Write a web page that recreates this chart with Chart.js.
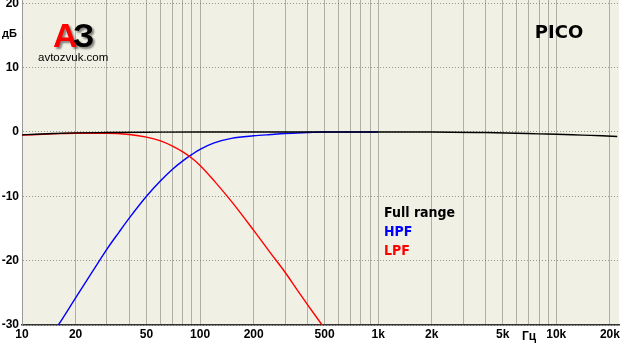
<!DOCTYPE html>
<html>
<head>
<meta charset="utf-8">
<script src="https://cdn.jsdelivr.net/npm/chart.js@4/dist/chart.umd.min.js"></script>
<style>
  html, body { margin: 0; padding: 0; background: #fff; }
  #wrap { width: 620px; height: 343px; }
</style>
</head>
<body>
<div id="wrap"><canvas id="myChart"></canvas></div>
<script>
// values (Hz, dB)
let fullFreq = [10, 12, 15, 20, 30, 50, 100, 200, 500, 1000, 2000, 4000, 6000, 8000, 10000, 14000, 18000, 22000]
let fullDb   = [-0.45, -0.35, -0.25, -0.15, -0.1, -0.05, 0, 0, 0, 0, 0, -0.1, -0.2, -0.3, -0.35, -0.5, -0.6, -0.7]

let hpfFreq = [16, 18, 20, 25, 30, 35, 40, 50, 60, 70, 80, 90, 100, 120, 150, 200, 250, 300, 400, 500, 1000]
let hpfDb   = [-30, -27.8, -25.8, -21.6, -18.2, -15.6, -13.4, -10.0, -7.6, -5.8, -4.5, -3.5, -2.7, -1.7, -1.0, -0.6, -0.4, -0.25, -0.1, 0, 0]

let lpfFreq = [10, 15, 20, 30, 40, 50, 60, 70, 80, 90, 100, 120, 150, 200, 250, 300, 350, 400, 490]
let lpfDb   = [-0.5, -0.3, -0.2, -0.2, -0.4, -0.8, -1.4, -2.2, -3.1, -4.1, -5.2, -7.6, -10.8, -15.3, -18.9, -21.8, -24.5, -26.8, -30.2]

let freqTicks = [10,20,30,40,50,60,70,80,90,100,200,300,400,500,600,700,800,900,
                 1000,2000,3000,4000,5000,6000,7000,8000,9000,10000,20000]
let labelFreqs = [10, 20, 50, 100, 200, 500, 1000, 2000, 5000, 10000, 20000]
let labelTexts = ['10', '20', '50', '100', '200', '500', '1k', '2k', '5k', '10k', '20k']
let dbTicks = [-30, -20, -10, 0, 10, 20]

function points(fr, db) {
  return fr.map((f, i) => ({x: f, y: db[i]}))
}

let overlay = {
  id: 'overlay',
  beforeDraw(chart) {
    let {ctx, chartArea: a} = chart
    ctx.save()
    ctx.fillStyle = '#F1F0E4'
    ctx.fillRect(a.left, a.top, a.right - a.left, a.bottom - a.top)
    ctx.restore()
  },
  afterDraw(chart) {
    let ctx = chart.ctx
    ctx.save()
    // logo
    ctx.textBaseline = 'alphabetic'
    ctx.font = 'bold 34px "Liberation Sans"'
    ctx.shadowColor = 'rgba(0,0,0,0.45)'
    ctx.shadowOffsetX = 2
    ctx.shadowOffsetY = 2
    ctx.shadowBlur = 2
    ctx.fillStyle = '#ff0000'
    ctx.fillText('А', 53, 47)
    ctx.fillStyle = '#000'
    ctx.fillText('З', 73, 47)
    ctx.shadowColor = 'transparent'
    ctx.font = '11.5px "Liberation Sans"'
    ctx.fillText('avtozvuk.com', 38, 61)

    ctx.font = 'bold 11px "Liberation Sans"'
    ctx.fillText('дБ', 2, 37)

    ctx.font = 'bold 18px "DejaVu Sans"'
    ctx.textAlign = 'center'
    ctx.fillText('PICO', 559, 38)

    ctx.textAlign = 'left'
    ctx.font = 'bold 14px "DejaVu Sans Condensed"'
    ctx.fillStyle = '#000'
    ctx.fillText('Full range', 384, 217)
    ctx.fillStyle = '#0000ff'
    ctx.fillText('HPF', 384, 236)
    ctx.fillStyle = '#ff0000'
    ctx.fillText('LPF', 384, 255)

    ctx.fillStyle = '#000'
    ctx.font = 'bold 12px "Liberation Sans"'
    ctx.fillText('Гц', 522, 340)
    ctx.restore()
  }
}

let chart = new Chart(document.getElementById('myChart').getContext('2d'), {
  type: 'line',
  data: {
    datasets: [
      {label: 'Full range', data: points(fullFreq, fullDb), borderColor: '#000', order: 0},
      {label: 'LPF', data: points(lpfFreq, lpfDb), borderColor: '#ff0000', order: 1},
      {label: 'HPF', data: points(hpfFreq, hpfDb), borderColor: '#0000ff', order: 2}
    ]
  },
  options: {
    responsive: true,
    maintainAspectRatio: false,
    animation: false,
    layout: {padding: {top: 0, right: 1, left: 0, bottom: 0}},
    elements: {
      point: {radius: 0},
      line: {borderWidth: 1.4, cubicInterpolationMode: 'monotone'}
    },
    plugins: {legend: {display: false}, tooltip: {enabled: false}},
    scales: {
      x: {
        type: 'logarithmic',
        min: 10,
        max: 22500,
        afterBuildTicks: s => { s.ticks = freqTicks.map(v => ({value: v})) },
        afterFit: s => { s.height = 18; s.paddingLeft = 0; s.paddingRight = 0 },
        grid: {color: 'rgba(110,110,100,0.5)', drawTicks: false},
        border: {color: '#333', width: 1.5},
        ticks: {
          autoSkip: false, maxRotation: 0, padding: 2,
          color: '#000', font: {family: 'Liberation Sans', size: 12, weight: 'bold'},
          callback: v => {
            let i = labelFreqs.indexOf(v)
            return i >= 0 ? labelTexts[i] : ''
          }
        }
      },
      y: {
        min: -30,
        max: 20.5,
        afterBuildTicks: s => { s.ticks = dbTicks.map(v => ({value: v})) },
        afterFit: s => { s.width = 22; s.paddingTop = 0; s.paddingBottom = 0 },
        grid: {color: 'rgba(110,110,100,0.7)', drawTicks: false},
        border: {color: '#999', dash: [1, 2]},
        ticks: {
          padding: 3, color: '#000',
          font: {family: 'Liberation Sans', size: 12, weight: 'bold'}
        }
      }
    }
  },
  plugins: [overlay]
})
</script>
</body>
</html>
